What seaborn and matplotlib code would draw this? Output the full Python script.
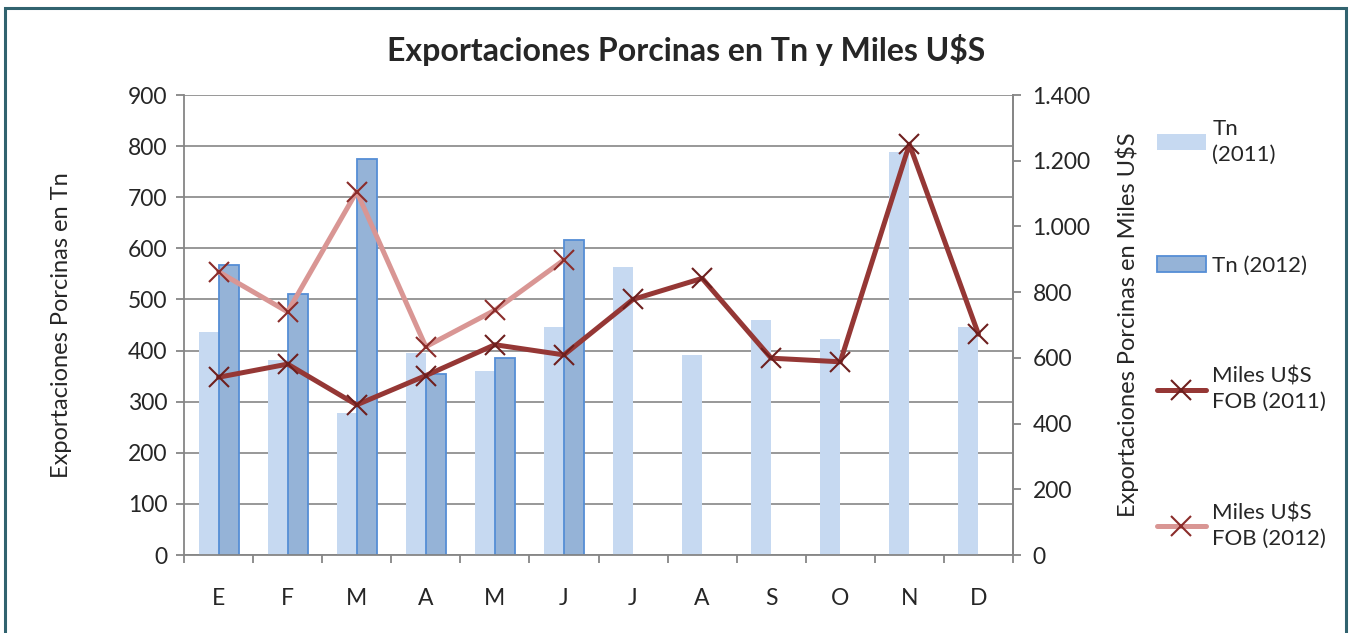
import numpy as np
import pandas as pd
import matplotlib
matplotlib.use("Agg")
import matplotlib.pyplot as plt
from matplotlib.ticker import FuncFormatter, MultipleLocator, FixedLocator
from matplotlib.patches import Rectangle
import seaborn as sns

months = ["E", "F", "M", "A", "M", "J", "J", "A", "S", "O", "N", "D"]
tn_2011 = [437, 382, 278, 395, 360, 446, 564, 391, 460, 423, 789, 446]
tn_2012 = [568, 510, 774, 354, 385, 617, np.nan, np.nan, np.nan, np.nan, np.nan, np.nan]
usd_2011 = [541, 581, 457, 546, 640, 609, 778, 842, 599, 588, 1250, 672]
usd_2012 = [862, 740, 1106, 634, 745, 898, np.nan, np.nan, np.nan, np.nan, np.nan, np.nan]

sns.set_theme(style="white")
plt.rcParams["font.family"] = ["Lato", "DejaVu Sans"]

idx = np.arange(len(months))
bars = pd.DataFrame({
    "mes": np.concatenate([idx, idx]),
    "valor": np.concatenate([tn_2011, tn_2012]),
    "serie": ["Tn\n(2011)"] * 12 + ["Tn (2012)"] * 12,
})

fig = plt.figure(figsize=(13.5, 6.33), dpi=100)
ax = fig.add_axes([184 / 1350, 1 - 555 / 633, (1013 - 184) / 1350, 460 / 633])

grid_c = "#868686"
tick_fs = 16.5
sns.barplot(data=bars, x="mes", y="valor", hue="serie",
            palette=["#C6D9F1", "#95B3D7"], width=0.58, ax=ax,
            saturation=1, legend=False, errorbar=None)
for p in ax.patches[12:]:
    p.set_edgecolor("#558ED5")
    p.set_linewidth(1.3)
for p in ax.patches[:12]:
    p.set_linewidth(0)

ax.set_xlim(-0.5, 11.5)
ax.set_ylim(0, 900)
ax.yaxis.set_major_locator(MultipleLocator(100))
ax.set_axisbelow(True)
ax.grid(axis="y", color=grid_c, lw=1.2)
ax.grid(axis="x", visible=False)
ax.set_xticks(idx)
ax.set_xticklabels(months)
ax.xaxis.set_minor_locator(FixedLocator(np.arange(-0.5, 12, 1)))
ax.tick_params(axis="x", which="major", length=0, pad=24, labelsize=tick_fs)
ax.tick_params(axis="x", which="minor", length=6, width=1.3, color=grid_c, direction="out", bottom=True)
ax.tick_params(axis="y", length=6, width=1.3, color=grid_c, direction="out", left=True, labelsize=tick_fs, pad=6)
ax.spines["top"].set_visible(False)
for s in ["left", "bottom", "right"]:
    ax.spines[s].set_color(grid_c)
    ax.spines[s].set_linewidth(1.3)
ax.set_xlabel("")
ax.set_ylabel("Exportaciones Porcinas en Tn", fontsize=17)
ax.yaxis.set_label_coords((72 - 184) / 829, 0.5)

ax2 = ax.twinx()
sns.lineplot(x=idx, y=usd_2011, ax=ax2, color="#953735", lw=3.6,
             marker="x", markersize=14, markeredgewidth=1.5, markeredgecolor="#6E1F1E",
             label="Miles U\\$S\nFOB (2011)", legend=False)
sns.lineplot(x=idx, y=usd_2012, ax=ax2, color="#D99694", lw=3.6,
             marker="x", markersize=14, markeredgewidth=1.5, markeredgecolor="#8B2C2A",
             label="Miles U\\$S\nFOB (2012)", legend=False)
ax2.set_ylim(0, 1400)
ax2.yaxis.set_major_locator(MultipleLocator(200))
ax2.yaxis.set_major_formatter(FuncFormatter(lambda v, p: f"{int(v):,}".replace(",", ".")))
ax2.tick_params(axis="y", length=6, width=1.3, color=grid_c, direction="out", right=True, labelsize=tick_fs, pad=8)
ax2.grid(False)
for s in ["top", "left", "bottom"]:
    ax2.spines[s].set_visible(False)
ax2.spines["right"].set_color(grid_c)
ax2.spines["right"].set_linewidth(1.3)
ax2.set_ylabel("Exportaciones Porcinas en Miles U\\$S", fontsize=17)
ax2.yaxis.set_label_coords((1116 - 184) / 829, 0.5)
ax2.set_xlim(-0.5, 11.5)

h2, l2 = ax2.get_legend_handles_labels()
handles = ax.patches[0:1] + ax.patches[12:13] + h2
labels = ["Tn\n(2011)", "Tn (2012)"] + l2
leg = fig.legend(handles, labels, loc="upper left", bbox_to_anchor=(1148 / 1350, 1 - 110 / 633),
                 frameon=False, fontsize=16, labelspacing=4.1, handlelength=2.2,
                 handletextpad=0.3, borderaxespad=0)
for t in leg.get_texts():
    t.set_linespacing(1.35)

fig.text(686 / 1350, 1 - 50 / 633, "Exportaciones Porcinas en Tn y Miles U\\$S",
         ha="center", va="center", fontsize=23, fontweight="bold")

fig.patches.append(Rectangle((5 / 1350, -0.05), (1346 - 5) / 1350, 1.05 - 8 / 633,
                             transform=fig.transFigure, fill=False,
                             edgecolor="#31636F", lw=2.2))

fig.savefig("out.png", dpi=100)
